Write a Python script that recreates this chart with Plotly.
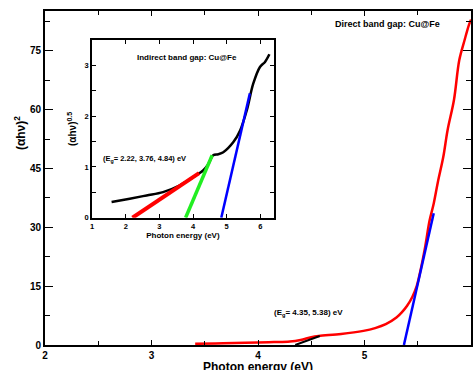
import plotly.graph_objects as go

# ---- main (direct band gap) data ----
direct_E = [3.41, 3.6, 3.78, 4.0, 4.15, 4.3, 4.4, 4.5, 4.57, 4.78, 4.99, 5.1, 5.2, 5.3, 5.35,
            5.4, 5.45, 5.49, 5.52, 5.57, 5.61, 5.65, 5.69, 5.74, 5.78, 5.84, 5.89, 5.94, 5.98, 6.0]
direct_v = [0.3, 0.4, 0.5, 0.65, 0.75, 0.9, 1.3, 2.0, 2.3, 2.8, 3.6, 4.3, 5.3, 7.0, 8.3,
            10.0, 12.3, 15.0, 18.3, 25.1, 31.6, 36.1, 41.7, 48.0, 54.8, 62.5, 72.7, 77.8, 81.6, 83.0]
fit_black_E = [4.35, 4.58]
fit_black_v = [0.0, 2.3]
fit_blue_E = [5.37, 5.65]
fit_blue_v = [0.0, 33.6]

# ---- inset (indirect band gap) data ----
ind_E = [1.58, 2.12, 2.62, 3.11, 3.61, 4.0, 4.3, 4.45, 4.6, 4.75, 4.9, 5.2, 5.4, 5.6, 5.79, 5.99, 6.14, 6.27]
ind_v = [0.31, 0.375, 0.44, 0.505, 0.64, 0.80, 0.93, 1.05, 1.23, 1.25, 1.29, 1.49, 1.72, 2.12, 2.64, 2.97, 3.07, 3.22]
ind_red_E = [2.2, 4.18]
ind_red_v = [0.0, 0.88]
ind_green_E = [3.78, 4.57]
ind_green_v = [0.0, 1.23]
ind_blue_E = [4.84, 5.69]
ind_blue_v = [0.0, 2.45]

FONT = "Liberation Sans"

fig = go.Figure()
fig.add_trace(go.Scatter(x=direct_E, y=direct_v, mode="lines", line=dict(color="red", width=2.5, shape="spline")))
fig.add_trace(go.Scatter(x=fit_black_E, y=fit_black_v, mode="lines", line=dict(color="black", width=2)))
fig.add_trace(go.Scatter(x=fit_blue_E, y=fit_blue_v, mode="lines", line=dict(color="blue", width=2.5)))

fig.add_trace(go.Scatter(x=ind_E, y=ind_v, mode="lines", xaxis="x2", yaxis="y2",
                         line=dict(color="black", width=2.5, shape="spline")))
fig.add_trace(go.Scatter(x=ind_red_E, y=ind_red_v, mode="lines", xaxis="x2", yaxis="y2",
                         line=dict(color="red", width=4)))
fig.add_trace(go.Scatter(x=ind_green_E, y=ind_green_v, mode="lines", xaxis="x2", yaxis="y2",
                         line=dict(color="#22ee22", width=3.5)))
fig.add_trace(go.Scatter(x=ind_blue_E, y=ind_blue_v, mode="lines", xaxis="x2", yaxis="y2",
                         line=dict(color="blue", width=2.5)))

tickfont_main = dict(family=FONT, size=10, color="black", weight="bold")
tickfont_in = dict(family=FONT, size=7.5, color="black", weight="bold")

fig.update_layout(
    width=474, height=370,
    margin=dict(l=45, r=1, t=11, b=25),
    paper_bgcolor="white", plot_bgcolor="white",
    showlegend=False,
    xaxis=dict(range=[2, 6], dtick=1, tick0=2, showgrid=False, zeroline=False,
               showline=True, linewidth=2, linecolor="black", mirror="allticks",
               ticks="inside", ticklen=5, tickwidth=1.2, tickcolor="black",
               minor=dict(dtick=0.5, ticks="inside", ticklen=4, tickwidth=1.2, tickcolor="black"),
               tickfont=tickfont_main),
    yaxis=dict(range=[0, 85.2], dtick=15, tick0=0, showgrid=False, zeroline=False,
               showline=True, linewidth=2, linecolor="black", mirror="allticks",
               ticks="inside", ticklen=8, tickwidth=1.2, tickcolor="black",
               minor=dict(dtick=7.5, ticks="inside", ticklen=5, tickwidth=1.2, tickcolor="black"),
               tickfont=tickfont_main),
    xaxis2=dict(domain=[0.1105, 0.537], anchor="y2", range=[1, 6.4], dtick=1, tick0=1,
                showgrid=False, zeroline=False, showline=True, linewidth=2, linecolor="black",
                mirror="allticks", ticks="inside", ticklen=4, tickwidth=1.2, tickcolor="black",
                tickfont=tickfont_in,
                title=dict(text="Photon energy (eV)", standoff=2,
                           font=dict(family=FONT, size=8, color="black", weight="bold"))),
    yaxis2=dict(domain=[0.381, 0.913], anchor="x2", range=[0, 3.5], dtick=1, tick0=0,
                showgrid=False, zeroline=False, showline=True, linewidth=2, linecolor="black",
                mirror="allticks", ticks="inside", ticklen=4, tickwidth=1.2, tickcolor="black",
                minor=dict(dtick=0.5, ticks="inside", ticklen=4, tickwidth=1.2, tickcolor="black"),
                tickfont=tickfont_in,
                title=dict(text="(αhν)<sup>0.5</sup>", standoff=6,
                           font=dict(family=FONT, size=10, color="black", weight="bold"))),
)

ann_font = lambda s: dict(family=FONT, size=s, color="black", weight="bold")
fig.add_annotation(x=(389 - 45) / 428, y=(345 - 24) / 334, xref="paper", yref="paper",
                   text="Direct band gap: Cu@Fe", showarrow=False, font=ann_font(9),
                   xanchor="center", yanchor="middle")
fig.add_annotation(x=4.47, y=8.2, xref="x", yref="y",
                   text="(E<sub>g</sub>= 4.35, 5.38) eV", showarrow=False, font=ann_font(8),
                   xanchor="center", yanchor="middle")
fig.add_annotation(x=3.82, y=3.16, xref="x2", yref="y2",
                   text="Indirect band gap: Cu@Fe", showarrow=False, font=ann_font(8),
                   xanchor="center", yanchor="middle")
fig.add_annotation(x=2.57, y=1.16, xref="x2", yref="y2",
                   text="(E<sub>g</sub>= 2.22, 3.76, 4.84) eV", showarrow=False, font=ann_font(7.5),
                   xanchor="center", yanchor="middle")
# main axis titles
fig.add_annotation(x=(20 - 45) / 428, y=(345 - 133) / 334, xref="paper", yref="paper",
                   text="(αhν)<sup>2</sup>", showarrow=False, textangle=-90, font=ann_font(12),
                   xanchor="center", yanchor="middle")
fig.add_annotation(x=0.5, y=(345 - 367) / 334, xref="paper", yref="paper",
                   text="Photon energy (eV)", showarrow=False, font=ann_font(12),
                   xanchor="center", yanchor="middle")

fig.write_html("out.html")
